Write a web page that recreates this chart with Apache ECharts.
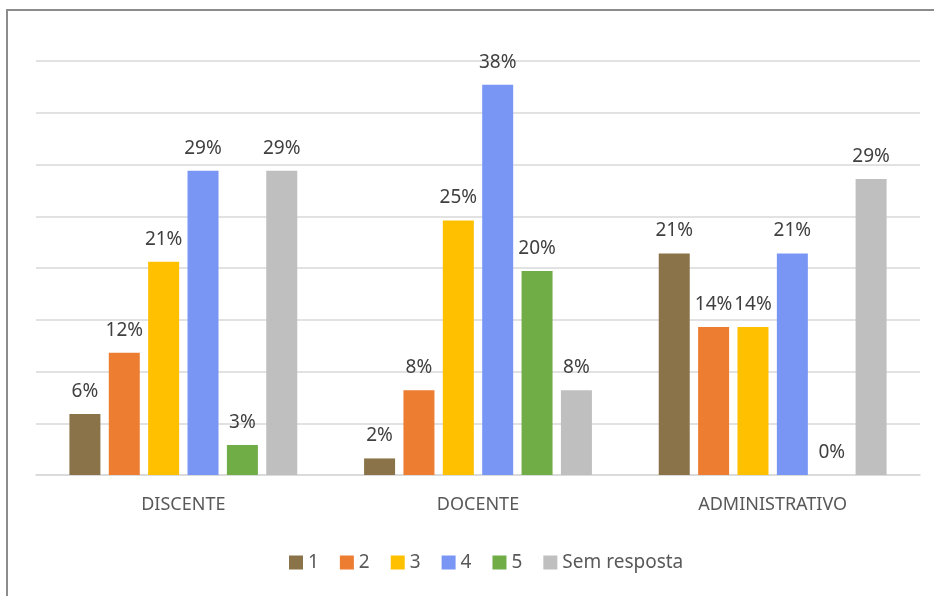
<!DOCTYPE html>
<html>
<head>
<meta charset="utf-8">
<script src="https://cdn.jsdelivr.net/npm/echarts@6/dist/echarts.min.js"></script>
<style>
  html, body { margin: 0; padding: 0; background: #fff; }
  #chart { width: 934px; height: 596px; }
</style>
</head>
<body>
<div id="chart"></div>
<script>
// categorias e percentuais por resposta
const categories = ['DISCENTE', 'DOCENTE', 'ADMINISTRATIVO'];
const seriesNames = ['1', '2', '3', '4', '5', 'Sem resposta'];
const resp1 = [5.9, 1.6, 21.4];
const resp2 = [11.8, 8.2, 14.3];
const resp3 = [20.6, 24.6, 14.3];
const resp4 = [29.4, 37.7, 21.4];
const resp5 = [2.9, 19.7, 0];
const semResposta = [29.4, 8.2, 28.6];
const colors = ['#8B7349', '#ED7D31', '#FFC000', '#7A96F5', '#70AD47', '#BFBFBF'];

const allValues = [resp1, resp2, resp3, resp4, resp5, semResposta];
const font = 'Noto Sans';

const chart = echarts.init(document.getElementById('chart'));
chart.setOption({
  animation: false,
  color: colors,
  graphic: [{
    type: 'rect',
    shape: { x: 7, y: 10, width: 1200, height: 1200 },
    style: { fill: 'none', stroke: '#8c8c8c', lineWidth: 2 },
    silent: true
  }],
  grid: { left: 36, right: 14, top: 61, bottom: 121 },
  legend: {
    bottom: 19,
    left: 284,
    icon: 'rect',
    itemWidth: 14,
    itemHeight: 14,
    itemGap: 21,
    textStyle: { fontFamily: font, fontSize: 19, color: '#595959' },
    data: seriesNames
  },
  xAxis: {
    type: 'category',
    data: categories,
    axisTick: { show: false },
    axisLine: { lineStyle: { color: '#d9d9d9', width: 1.5 } },
    axisLabel: { margin: 21, fontFamily: font, fontSize: 18, color: '#595959' }
  },
  yAxis: {
    type: 'value',
    min: 0,
    max: 40,
    interval: 5,
    axisLabel: { show: false },
    axisLine: { show: false },
    axisTick: { show: false },
    splitLine: { lineStyle: { color: '#d9d9d9', width: 1.5 } }
  },
  series: seriesNames.map((name, i) => ({
    name: name,
    type: 'bar',
    data: allValues[i],
    barWidth: 31,
    barGap: '27%',
    label: {
      show: true,
      position: 'top',
      distance: 13,
      fontFamily: font,
      fontSize: 19,
      color: '#404040',
      formatter: (p) => Math.round(p.value) + '%'
    }
  }))
});
</script>
</body>
</html>
